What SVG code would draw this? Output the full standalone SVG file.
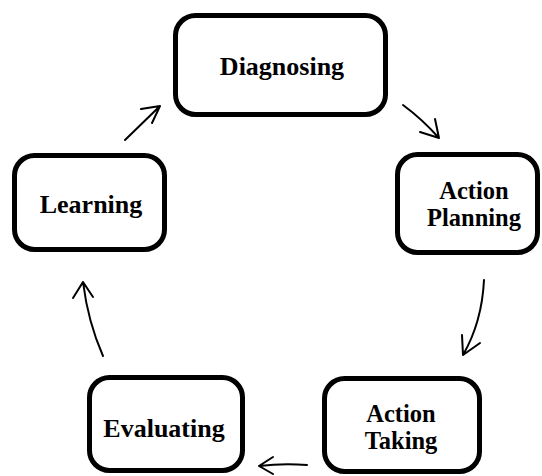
<svg xmlns="http://www.w3.org/2000/svg" width="542" height="476" viewBox="0 0 542 476">
<style>
.box{fill:#fff;stroke:#000;stroke-width:5}
.lbl{font-family:"Liberation Serif","Times New Roman",serif;font-weight:bold;font-size:26px;fill:#000;text-anchor:middle}
.two{font-size:24.5px}
.con{fill:none;stroke:#000;stroke-width:2;stroke-linecap:round;stroke-linejoin:round}
</style>
<rect width="542" height="476" fill="#fff"/>
<g id="diagnosing">
<rect class="box" x="175.5" y="15.5" width="210" height="99" rx="20"/>
<text class="lbl" x="282" y="75">Diagnosing</text>
</g>
<g id="action-planning">
<rect class="box" x="397.5" y="154.5" width="140" height="98" rx="20"/>
<text class="lbl two" x="474" y="199">Action</text>
<text class="lbl two" x="474" y="226">Planning</text>
</g>
<g id="action-taking">
<rect class="box" x="324.5" y="378.5" width="155" height="93" rx="20"/>
<text class="lbl two" x="401" y="422">Action</text>
<text class="lbl two" x="401" y="449">Taking</text>
</g>
<g id="evaluating">
<rect class="box" x="89.5" y="377.5" width="153" height="93" rx="20"/>
<text class="lbl" x="164" y="437">Evaluating</text>
</g>
<g id="learning">
<rect class="box" x="14.5" y="155.5" width="150" height="94" rx="20"/>
<text class="lbl" x="91" y="213">Learning</text>
</g>
<g id="connectors">
<path class="con" d="M125 140 L160 106 M141 109 L160 106 L152 123"/>
<path class="con" d="M403 105 Q422 119 439 138 M420 132 L439 138 L435 119"/>
<path class="con" d="M484 280 Q482 322 463 355 M462 335 L463 355 L480 343"/>
<path class="con" d="M307 465 Q283 463 259 466 M273 457 L259 466 L273 474"/>
<path class="con" d="M103 356 Q88 322 83 282 M73 298 L83 282 L93 297"/>
</g>
</svg>
